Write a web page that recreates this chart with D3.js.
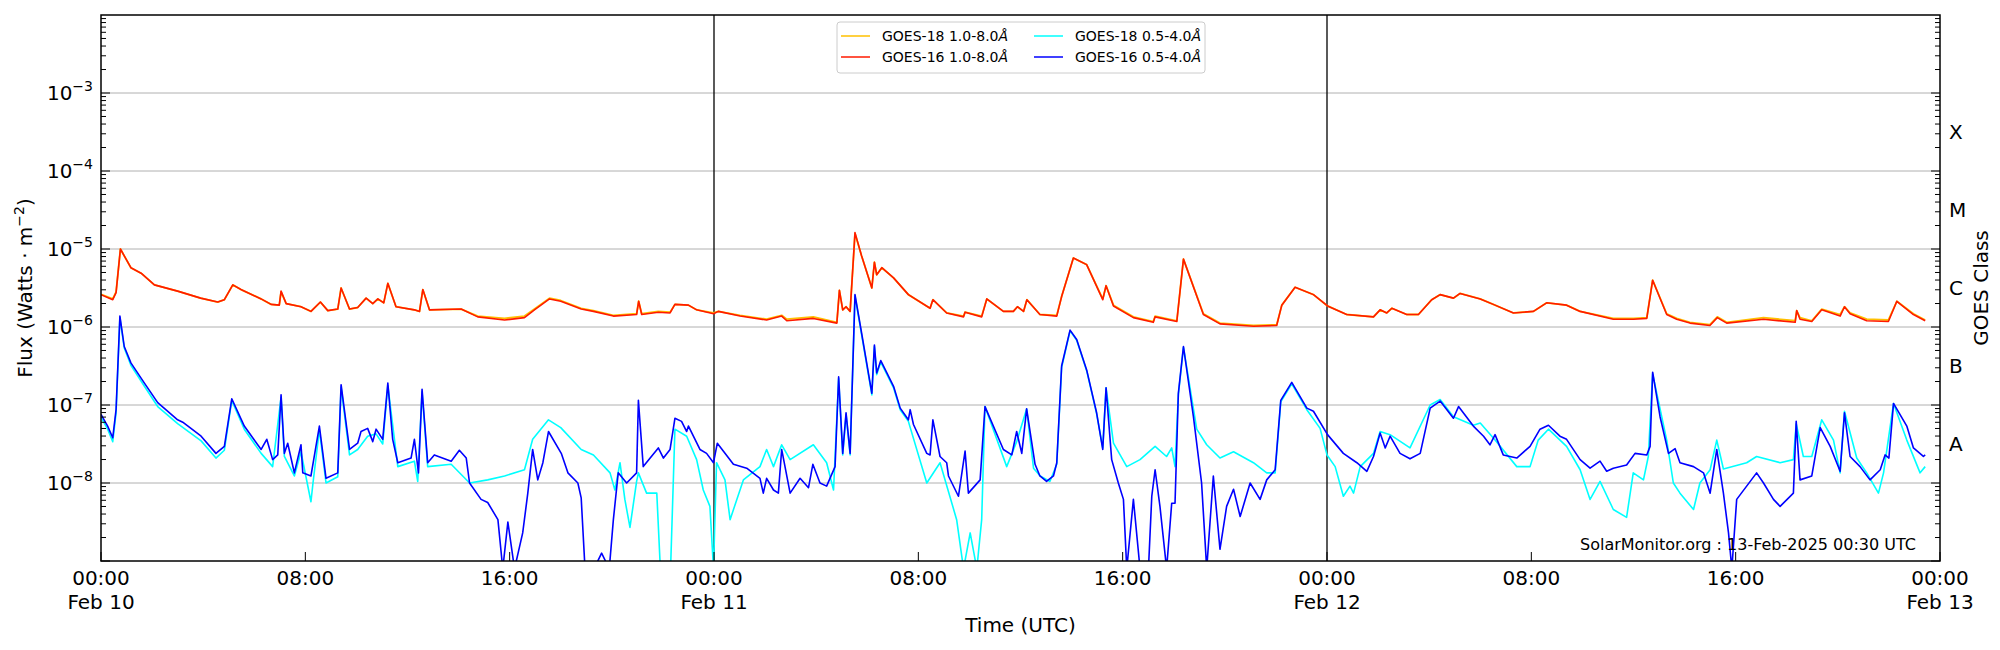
<!DOCTYPE html>
<html><head><meta charset="utf-8">
<script src="https://cdn.jsdelivr.net/npm/d3@7"></script>
<style>body{margin:0;background:#fff}svg{font-family:"DejaVu Sans",sans-serif}</style>
</head><body><svg id="c" width="2000" height="650"></svg>
<script>
// hours since Feb 10 00:00 UTC, log10 flux (W/m^2)
const g16LongT=[0,0.46,0.59,0.76,1.17,1.57,2.09,3.0,3.9,4.57,4.83,5.16,5.48,6.27,6.66,6.98,7.05,7.25,7.83,8.22,8.59,8.88,9.27,9.4,9.73,10.05,10.38,10.64,10.84,11.07,11.23,11.55,12.27,12.47,12.6,12.86,14.1,14.75,15.8,16.58,16.97,17.56,18.0,18.8,19.28,20.06,20.97,21.05,21.17,21.82,22.28,22.47,23.0,23.32,23.98,24.17,25.02,26.06,26.65,26.85,27.89,28.81,28.91,29.04,29.17,29.33,29.52,29.78,30.18,30.28,30.37,30.57,31.03,31.61,32.46,32.57,33.11,33.77,33.83,34.48,34.68,35.33,35.72,35.88,36.12,36.25,36.76,37.42,37.61,38.07,38.59,39.22,39.35,39.64,40.42,41.2,41.27,42.12,42.38,43.16,43.81,45.12,46.03,46.23,46.75,47.47,48.02,48.77,49.82,50.08,50.34,50.54,51.12,51.58,52.1,52.43,52.95,53.21,54.0,54.51,55.3,56.08,56.6,57.38,57.91,59.21,60.0,60.52,60.75,61.3,61.69,62.21,62.99,63.28,63.65,65.09,66.33,66.39,66.52,66.98,67.37,68.09,68.26,68.48,69.13,69.98,70.31,70.96,71.42];
const g16LongV=[-5.585,-5.65,-5.56,-5.0,-5.24,-5.31,-5.46,-5.54,-5.63,-5.68,-5.65,-5.46,-5.52,-5.64,-5.71,-5.72,-5.54,-5.7,-5.74,-5.8,-5.68,-5.79,-5.77,-5.5,-5.77,-5.75,-5.63,-5.7,-5.64,-5.69,-5.44,-5.74,-5.78,-5.8,-5.52,-5.78,-5.77,-5.87,-5.91,-5.88,-5.78,-5.64,-5.67,-5.77,-5.8,-5.86,-5.84,-5.67,-5.84,-5.81,-5.82,-5.71,-5.72,-5.78,-5.83,-5.8,-5.86,-5.91,-5.86,-5.92,-5.89,-5.95,-5.53,-5.78,-5.74,-5.8,-4.79,-5.09,-5.5,-5.17,-5.33,-5.24,-5.37,-5.585,-5.76,-5.65,-5.82,-5.87,-5.81,-5.87,-5.64,-5.8,-5.8,-5.74,-5.8,-5.65,-5.84,-5.86,-5.61,-5.115,-5.2,-5.65,-5.47,-5.73,-5.88,-5.94,-5.87,-5.93,-5.13,-5.84,-5.96,-5.99,-5.98,-5.72,-5.49,-5.585,-5.73,-5.84,-5.87,-5.78,-5.82,-5.76,-5.84,-5.84,-5.65,-5.585,-5.63,-5.57,-5.64,-5.71,-5.82,-5.8,-5.69,-5.72,-5.8,-5.9,-5.9,-5.89,-5.4,-5.84,-5.9,-5.95,-5.98,-5.88,-5.95,-5.9,-5.94,-5.79,-5.9,-5.93,-5.78,-5.86,-5.74,-5.83,-5.92,-5.93,-5.67,-5.84,-5.92];
const g18LongT=g16LongT;
const g18LongV=[-5.58,-5.64,-5.55,-5.0,-5.24,-5.31,-5.46,-5.54,-5.63,-5.68,-5.65,-5.46,-5.52,-5.64,-5.71,-5.72,-5.55,-5.7,-5.74,-5.8,-5.68,-5.79,-5.77,-5.5,-5.77,-5.75,-5.63,-5.7,-5.64,-5.69,-5.44,-5.74,-5.78,-5.8,-5.52,-5.78,-5.77,-5.86,-5.89,-5.86,-5.77,-5.63,-5.66,-5.76,-5.79,-5.85,-5.83,-5.67,-5.83,-5.8,-5.81,-5.71,-5.72,-5.78,-5.82,-5.8,-5.85,-5.9,-5.85,-5.9,-5.87,-5.94,-5.53,-5.78,-5.74,-5.8,-4.8,-5.09,-5.5,-5.17,-5.33,-5.24,-5.37,-5.585,-5.76,-5.65,-5.82,-5.86,-5.81,-5.86,-5.64,-5.8,-5.8,-5.74,-5.8,-5.65,-5.84,-5.85,-5.61,-5.115,-5.2,-5.64,-5.47,-5.72,-5.87,-5.93,-5.86,-5.92,-5.13,-5.83,-5.95,-5.98,-5.97,-5.72,-5.49,-5.585,-5.73,-5.84,-5.87,-5.78,-5.82,-5.76,-5.84,-5.84,-5.65,-5.585,-5.63,-5.57,-5.64,-5.71,-5.82,-5.8,-5.69,-5.72,-5.8,-5.89,-5.89,-5.88,-5.4,-5.83,-5.89,-5.94,-5.97,-5.87,-5.94,-5.88,-5.92,-5.79,-5.88,-5.92,-5.77,-5.84,-5.74,-5.82,-5.9,-5.91,-5.67,-5.83,-5.91];
const g16ShortT=[0,0.26,0.46,0.59,0.74,0.91,1.17,1.7,2.22,3.0,3.2,3.92,4.5,4.83,5.12,5.61,6.27,6.49,6.72,6.92,7.05,7.18,7.31,7.57,7.83,7.9,8.22,8.55,8.81,9.27,9.4,9.73,10.05,10.18,10.44,10.64,10.77,11.03,11.23,11.42,11.62,12.14,12.27,12.43,12.57,12.79,13.05,13.71,14.03,14.3,14.43,14.88,15.14,15.54,15.73,15.93,16.19,16.51,16.71,16.9,17.1,17.3,17.52,18.02,18.28,18.67,18.8,18.95,19.3,19.6,19.9,20.06,20.25,20.58,20.97,21.04,21.23,21.82,22.02,22.28,22.47,22.73,22.93,23.0,23.45,23.71,23.98,24.13,24.76,25.28,25.8,25.93,26.06,26.33,26.52,26.65,26.98,27.37,27.7,27.87,28.15,28.41,28.74,28.88,29.04,29.17,29.33,29.52,29.78,30.18,30.28,30.37,30.53,31.03,31.29,31.61,31.68,31.81,32.33,32.46,32.57,32.85,33.11,33.18,33.57,33.83,33.96,34.42,34.61,35.33,35.66,35.85,36.05,36.24,36.57,36.76,37.02,37.29,37.42,37.61,37.94,38.2,38.59,38.98,39.22,39.35,39.57,39.83,40.03,40.16,40.42,40.68,41.01,41.14,41.27,41.46,41.72,41.92,42.05,42.18,42.38,42.77,43.09,43.29,43.55,43.81,44.07,44.34,44.6,44.99,45.38,45.64,45.97,46.19,46.62,47.21,47.47,48.02,48.64,49.17,49.56,49.82,50.08,50.28,50.47,50.86,51.25,51.65,52.04,52.43,52.95,53.15,53.73,54.13,54.38,54.58,54.9,55.43,55.95,56.34,56.67,57.12,57.38,57.91,58.3,58.69,58.95,59.21,59.73,60.06,60.52,60.65,60.75,61.04,61.37,61.63,61.82,62.35,62.74,63.0,63.26,63.52,63.72,63.85,64.04,64.43,64.82,65.09,65.48,65.74,66.26,66.37,66.52,66.98,67.31,67.7,68.09,68.26,68.48,68.87,69.26,69.66,69.85,70.0,70.18,70.7,70.96,71.35,71.42];
const g16ShortV=[-7.12,-7.27,-7.42,-7.06,-5.86,-6.25,-6.46,-6.72,-6.97,-7.19,-7.22,-7.4,-7.62,-7.53,-6.92,-7.27,-7.57,-7.44,-7.7,-7.64,-6.87,-7.62,-7.49,-7.87,-7.51,-7.87,-7.91,-7.27,-7.94,-7.87,-6.74,-7.57,-7.49,-7.34,-7.3,-7.47,-7.31,-7.44,-6.72,-7.44,-7.74,-7.68,-7.44,-7.87,-6.8,-7.74,-7.64,-7.72,-7.58,-7.68,-8.0,-8.21,-8.25,-8.47,-9.1,-8.5,-9.1,-8.64,-8.13,-7.57,-7.96,-7.74,-7.34,-7.62,-7.87,-8.0,-8.19,-9.1,-9.1,-8.9,-9.1,-8.47,-7.87,-8.0,-7.87,-6.94,-7.79,-7.55,-7.68,-7.57,-7.17,-7.21,-7.34,-7.27,-7.57,-7.62,-7.74,-7.49,-7.76,-7.81,-7.94,-8.13,-7.94,-8.09,-8.13,-7.57,-8.13,-7.94,-8.06,-7.76,-8.0,-8.04,-7.79,-6.64,-7.62,-7.1,-7.62,-5.585,-6.08,-6.85,-6.23,-6.59,-6.43,-6.76,-7.04,-7.19,-7.06,-7.25,-7.62,-7.64,-7.19,-7.66,-7.74,-7.91,-8.17,-7.59,-8.13,-7.96,-7.02,-7.57,-7.64,-7.34,-7.62,-7.05,-7.76,-7.91,-7.98,-7.91,-7.74,-6.5,-6.04,-6.16,-6.55,-7.1,-7.57,-6.78,-7.7,-8.0,-8.21,-9.1,-8.21,-9.1,-9.1,-8.17,-7.83,-8.3,-9.1,-8.26,-8.26,-6.85,-6.25,-7.15,-8.0,-9.1,-7.91,-8.85,-8.3,-8.08,-8.43,-8.0,-8.21,-7.96,-7.83,-6.94,-6.71,-7.04,-7.08,-7.38,-7.62,-7.74,-7.85,-7.66,-7.36,-7.55,-7.4,-7.62,-7.69,-7.62,-7.04,-6.95,-7.17,-7.02,-7.27,-7.4,-7.51,-7.38,-7.64,-7.68,-7.53,-7.31,-7.26,-7.4,-7.44,-7.7,-7.81,-7.72,-7.85,-7.81,-7.77,-7.62,-7.64,-7.53,-6.58,-7.15,-7.62,-7.56,-7.74,-7.79,-7.87,-8.13,-7.57,-8.13,-8.64,-9.1,-8.21,-8.04,-7.87,-8.0,-8.21,-8.3,-8.13,-7.21,-7.96,-7.91,-7.29,-7.53,-7.85,-7.1,-7.66,-7.79,-7.96,-7.83,-7.64,-7.68,-6.98,-7.27,-7.55,-7.66,-7.64];
const g18ShortT=[0,0.26,0.46,0.59,0.74,0.91,1.17,1.7,2.22,3.0,3.92,4.5,4.83,5.12,5.61,6.27,6.72,7.05,7.18,7.57,7.83,8.22,8.3,8.55,8.81,9.27,9.4,9.73,10.05,10.44,10.77,11.03,11.23,11.62,12.27,12.4,12.57,12.79,13.71,14.43,15.14,15.8,16.58,16.9,17.52,18.0,18.8,19.28,19.93,20.12,20.32,20.51,20.71,20.97,21.04,21.36,21.76,21.9,22.1,22.3,22.47,22.93,23.32,23.58,23.84,23.98,24.1,24.43,24.63,25.15,25.8,26.06,26.33,26.65,26.98,27.89,28.41,28.68,28.88,29.04,29.17,29.33,29.52,29.78,30.18,30.28,30.37,30.53,31.03,31.29,31.61,32.33,32.85,33.5,33.77,34.03,34.29,34.48,34.61,35.46,35.85,36.24,36.51,36.77,37.15,37.42,37.61,37.94,38.2,38.59,38.98,39.22,39.35,39.64,40.16,40.68,41.27,41.72,41.92,42.05,42.18,42.38,42.9,43.29,43.81,44.34,45.12,45.64,45.97,46.19,46.62,47.21,47.73,48.0,48.32,48.64,48.9,49.04,49.3,49.82,50.08,50.47,51.25,52.04,52.43,52.95,53.73,54.0,54.58,55.43,55.95,56.27,56.67,57.38,57.91,58.3,58.69,59.21,59.73,59.99,60.39,60.58,60.75,61.3,61.56,61.82,62.35,62.6,63.0,63.26,63.52,64.43,64.82,65.74,66.26,66.37,66.65,66.98,67.37,67.83,68.09,68.26,68.74,69.13,69.59,69.79,70.18,70.7,71.22,71.42];
const g18ShortV=[-7.16,-7.31,-7.47,-7.1,-5.88,-6.27,-6.49,-6.76,-7.02,-7.24,-7.46,-7.68,-7.58,-6.94,-7.31,-7.62,-7.79,-6.9,-7.66,-7.91,-7.6,-8.24,-8.0,-7.32,-8.0,-7.92,-6.77,-7.64,-7.57,-7.4,-7.37,-7.5,-6.75,-7.79,-7.72,-7.98,-6.83,-7.79,-7.76,-8.0,-7.96,-7.91,-7.83,-7.44,-7.19,-7.29,-7.57,-7.64,-7.87,-8.09,-7.74,-8.21,-8.57,-7.98,-7.87,-8.13,-8.13,-9.1,-9.1,-9.1,-7.31,-7.4,-7.7,-8.09,-8.3,-9.1,-7.74,-7.96,-8.47,-7.96,-7.79,-7.57,-7.79,-7.51,-7.7,-7.51,-7.74,-8.09,-6.66,-7.64,-7.12,-7.64,-5.6,-6.1,-6.87,-6.25,-6.61,-6.45,-6.78,-7.06,-7.21,-8.0,-7.74,-8.47,-9.1,-8.64,-9.1,-8.47,-7.02,-7.79,-7.47,-7.05,-7.81,-7.91,-7.98,-7.76,-6.52,-6.05,-6.17,-6.56,-7.11,-7.55,-6.78,-7.49,-7.79,-7.7,-7.53,-7.66,-7.55,-7.79,-6.87,-6.26,-7.31,-7.51,-7.68,-7.6,-7.74,-7.87,-7.87,-6.96,-6.73,-7.06,-7.3,-7.64,-7.79,-8.17,-8.04,-8.13,-7.79,-7.62,-7.34,-7.38,-7.55,-7.0,-6.93,-7.15,-7.26,-7.23,-7.45,-7.79,-7.79,-7.45,-7.31,-7.53,-7.83,-8.21,-7.98,-8.34,-8.44,-7.87,-7.96,-7.66,-6.6,-7.45,-8.0,-8.13,-8.34,-8.0,-7.83,-7.45,-7.82,-7.74,-7.66,-7.74,-7.7,-7.24,-7.66,-7.66,-7.19,-7.45,-7.87,-7.08,-7.68,-7.87,-8.13,-7.87,-6.98,-7.45,-7.87,-7.79];
const xTickHours=[0,8,16,24,32,40,48,56,64,72];
const xTickLabels=["00:00\nFeb 10","08:00","16:00","00:00\nFeb 11","08:00","16:00","00:00\nFeb 12","08:00","16:00","00:00\nFeb 13"];
const yTickExps=[-8,-7,-6,-5,-4,-3];
const classLetters=["A","B","C","M","X"];
const classExps=[-7.5,-6.5,-5.5,-4.5,-3.5];
const dayLines=[24,48];
const legendItems=[["GOES-18 1.0-8.0","#ffc000"],["GOES-16 1.0-8.0","#ff1a00"],["GOES-18 0.5-4.0","#00ffff"],["GOES-16 0.5-4.0","#0000ff"]];

const L=101,R=1940,T=15,B=561;
const svg=d3.select("#c");
const x=d3.scaleLinear().domain([0,72]).range([L,R]);
const y=d3.scaleLog().domain([1e-9,1e-2]).range([B,T]);
svg.append("defs").append("clipPath").attr("id","clp").append("rect").attr("x",L).attr("y",T).attr("width",R-L).attr("height",B-T);
yTickExps.forEach(e=>svg.append("line").attr("x1",L).attr("x2",R).attr("y1",y(10**e)).attr("y2",y(10**e)).attr("stroke","#b0b0b0").attr("stroke-width",1));
dayLines.forEach(h=>svg.append("line").attr("x1",x(h)).attr("x2",x(h)).attr("y1",T).attr("y2",B).attr("stroke","#000").attr("stroke-width",1.3));
const line=d3.line().x(d=>x(d[0])).y(d=>y(10**d[1]));
const g=svg.append("g").attr("clip-path","url(#clp)");
function draw(T_,V_,c,w){g.append("path").datum(T_.map((t,i)=>[t,V_[i]])).attr("d",line).attr("fill","none").attr("stroke",c).attr("stroke-width",w).attr("stroke-linejoin","round");}
draw(g18ShortT,g18ShortV,"#00ffff",1.6);
draw(g16ShortT,g16ShortV,"#0000ff",1.6);
draw(g18LongT,g18LongV,"#ffc000",1.8);
draw(g16LongT,g16LongV,"#ff1a00",1.6);
svg.append("rect").attr("x",L).attr("y",T).attr("width",R-L).attr("height",B-T).attr("fill","none").attr("stroke","#000").attr("stroke-width",1.5);
const fs=20;
for(let e=-9;e<-2;e++){for(let m=1;m<10;m++){const v=m*10**e; if(v<1e-9||v>1e-2)continue; const yy=y(v); const len=m===1?9:5;
 svg.append("line").attr("x1",L).attr("x2",L+len).attr("y1",yy).attr("y2",yy).attr("stroke","#000");
 svg.append("line").attr("x1",R).attr("x2",R-len).attr("y1",yy).attr("y2",yy).attr("stroke","#000");}}
yTickExps.forEach(e=>{const t=svg.append("text").attr("x",L-8).attr("y",y(10**e)+7).attr("text-anchor","end").attr("font-size",fs);
 t.append("tspan").text("10"); t.append("tspan").attr("dy",-9).attr("font-size",14).text("−"+Math.abs(e));});
xTickHours.forEach((h,i)=>{svg.append("line").attr("x1",x(h)).attr("x2",x(h)).attr("y1",B).attr("y2",B-9).attr("stroke","#000");
 const parts=xTickLabels[i].split("\n");
 parts.forEach((p,j)=>svg.append("text").attr("x",x(h)).attr("y",B+24+j*24).attr("text-anchor","middle").attr("font-size",fs).text(p));});
svg.append("text").attr("x",(L+R)/2).attr("y",632).attr("text-anchor","middle").attr("font-size",fs).text("Time (UTC)");
const yl=svg.append("text").attr("transform",`translate(32,${(T+B)/2}) rotate(-90)`).attr("text-anchor","middle").attr("font-size",fs);
yl.append("tspan").text("Flux (Watts · m");yl.append("tspan").attr("dy",-8).attr("font-size",14).text("−2");yl.append("tspan").attr("dy",8).text(")");
classLetters.forEach((c,i)=>svg.append("text").attr("x",1949).attr("y",y(10**classExps[i])+7).attr("font-size",fs).text(c));
svg.append("text").attr("transform",`translate(1988,${(T+B)/2}) rotate(-90)`).attr("text-anchor","middle").attr("font-size",fs).text("GOES Class");
svg.append("text").attr("x",1916).attr("y",550).attr("text-anchor","end").attr("font-size",16).text("SolarMonitor.org : 13-Feb-2025 00:30 UTC");
const lg=svg.append("g");
lg.append("rect").attr("x",837).attr("y",22).attr("width",368).attr("height",51).attr("rx",3).attr("fill","#fff").attr("stroke","#ccc");
legendItems.forEach((it,i)=>{const col=Math.floor(i/2),row=i%2; const lx=841+col*193, ly=36+row*21;
 lg.append("line").attr("x1",lx).attr("x2",lx+29).attr("y1",ly).attr("y2",ly).attr("stroke",it[1]).attr("stroke-width",1.5);
 const t=lg.append("text").attr("x",lx+41).attr("y",ly+5).attr("font-size",14).text(it[0]);
 t.append("tspan").attr("font-style","italic").text("Å");});
</script></body></html>
